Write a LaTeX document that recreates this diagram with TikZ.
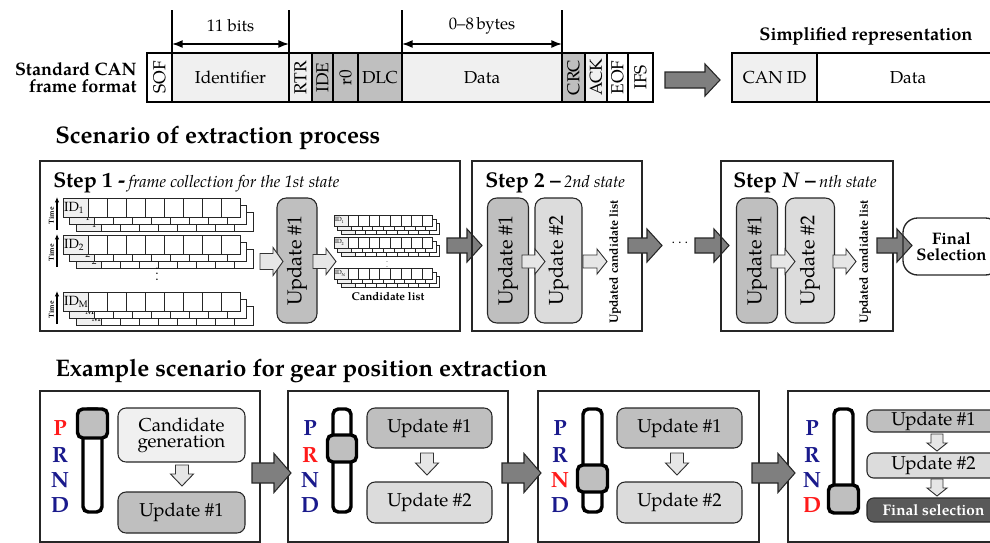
\documentclass[tikz,border=0pt]{standalone}
\usepackage{fontspec}
\setmainfont{TeX Gyre Pagella}
\usepackage{graphicx}
\usetikzlibrary{arrows.meta,calc}

\definecolor{cellLight}{HTML}{F0F0F0}
\definecolor{cellMid}{HTML}{BFBFBF}
\definecolor{updTwo}{HTML}{DCDCDC}
\definecolor{arrDark}{HTML}{7F7F7F}
\definecolor{arrLight}{HTML}{E6E6E6}
\definecolor{selDark}{HTML}{595959}
\definecolor{gearBlue}{HTML}{1A1A8C}
\definecolor{gearRed}{HTML}{FF1A1A}

\newcommand\fsz[1]{\fontsize{#1}{#1}\selectfont}
\newcommand\pxu{0.75pt}

% right-pointing block arrow: x1, x2, y, body half, head half, head length, style
\newcommand\blockR[7]{\draw[#7] (#1,{#3-#4}) -- ({#2-#6},{#3-#4}) -- ({#2-#6},{#3-#5}) -- (#2,#3)
  -- ({#2-#6},{#3+#5}) -- ({#2-#6},{#3+#4}) -- (#1,{#3+#4}) -- cycle;}
% downward block arrow: x, y1, y2, body half, head half, head length, style
\newcommand\blockD[7]{\draw[#7] ({#1-#4},#2) -- ({#1-#4},{#3-#6}) -- ({#1-#5},{#3-#6}) -- (#1,#3)
  -- ({#1+#5},{#3-#6}) -- ({#1+#4},{#3-#6}) -- ({#1+#4},#2) -- cycle;}

% one recorded frame: x, y, height, id width, cell width, label, label font
\newcommand\idlayer[7]{%
  \draw[framecell, fill=cellLight] (#1,#2) rectangle ({#1+#4},{#2+#3});
  \node[anchor=west, inner sep=0.6pt, font=#7] at (#1,{#2+#3/2}) {#6};
  \foreach \k in {0,...,7}{\draw[framecell, fill=white] ({#1+#4+\k*#5},#2) rectangle ({#1+#4+(\k+1)*#5},{#2+#3});}%
}
% three stacked frames of one ID
\newcommand\bigstack[3]{%
  \idlayer{#1+13}{#2+14}{19}{25}{19}{#3}{\fsz{10}}%
  \idlayer{#1+6.5}{#2+7}{19}{25}{19}{#3}{\fsz{10}}%
  \idlayer{#1}{#2}{19}{25}{19}{#3}{\fsz{10}}%
  \draw[-{Latex[length=4pt,width=3.4pt]}, line width=0.8pt] (57,{#2+32}) -- (57,{#2-1});
  \node[rotate=90, font=\bfseries\fsz{5.5}, inner sep=0pt] at (51.5,{#2+18}) {Time};
}
\newcommand\smallstack[3]{%
  \idlayer{#1+7}{#2+8}{11}{14}{10.6}{#3}{\fsz{4.5}}%
  \idlayer{#1+3.5}{#2+4}{11}{14}{10.6}{#3}{\fsz{4.5}}%
  \idlayer{#1}{#2}{11}{14}{10.6}{#3}{\fsz{4.5}}%
}
% field of the CAN frame: name, left x, right x, fill, content
\newcommand\fieldcell[5]{\node[fieldbox, fill=#4, minimum width={(#3-#2)*\pxu}, anchor=west] (#1) at (#2,77.5) {#5};}
% gear lever: bar left, bar right, knob top, knob bottom, bar bottom
\newcommand\gearlever[5]{%
  \draw[lever, fill=white] (#1,409) rectangle (#2,#5);
  \draw[lever, fill=cellMid] ({#1-5.5},#3) rectangle ({#2+5.5},#4);
}

\begin{document}
\begin{tikzpicture}[x=0.75pt,y=-0.75pt,
  fieldbox/.style={draw, line width=0.8pt, inner sep=0pt, outer sep=0pt, minimum height=49*\pxu, font=\fsz{13}},
  framecell/.style={draw=black!85, line width=0.6pt},
  dimline/.style={line width=1.1pt},
  dimarrow/.style={line width=1.1pt, {Latex[length=8pt,width=6pt]}-{Latex[length=8pt,width=6pt]}},
  barrow/.style={draw=black!85, line width=0.8pt, fill=arrDark},
  larrow/.style={draw=black!80, line width=0.7pt, fill=arrLight},
  stepbox/.style={draw=black!85, line width=1.1pt, inner sep=0pt, outer sep=0pt, anchor=north west},
  updbox/.style={draw=black!85, line width=0.8pt, rounded corners=7pt, inner sep=0pt, rotate=90, font=\fsz{15}},
  gbox/.style={draw=black!85, line width=0.8pt, rounded corners=6pt, inner sep=0pt, font=\fsz{14}, align=center},
  gearletter/.style={font=\bfseries\fsz{16.5}, inner sep=0pt},
  lever/.style={line width=2.6pt, rounded corners=4pt},
  sectitle/.style={font=\bfseries\fsz{18}, anchor=west, inner sep=0pt},
  vlabel/.style={rotate=90, font=\bfseries\fsz{9}, inner sep=0pt}
]
\useasboundingbox (0,0) rectangle (990,543);
\clip (0,0) rectangle (990,543);

% ---------------- standard CAN frame ----------------
\node[font=\bfseries\fontsize{13.5}{13}\selectfont, align=right, anchor=east, inner sep=0pt] (canlabel) at (137,77.5) {Standard CAN\\frame format};
\fieldcell{sof}{147}{172}{white}{\rotatebox{90}{SOF}}
\fieldcell{ident}{172}{289}{cellLight}{Identifier}
\fieldcell{rtr}{289}{312}{cellLight}{\rotatebox{90}{RTR}}
\fieldcell{ide}{312}{333}{cellMid}{\rotatebox{90}{IDE}}
\fieldcell{rzero}{333}{358}{cellMid}{\rotatebox{90}{r0}}
\fieldcell{dlc}{358}{402}{cellMid}{DLC}
\fieldcell{data}{402}{562}{cellLight}{Data}
\fieldcell{crc}{562}{585}{cellMid}{\rotatebox{90}{CRC}}
\fieldcell{ack}{585}{607}{cellLight}{\rotatebox{90}{ACK}}
\fieldcell{eof}{607}{628}{white}{\rotatebox{90}{EOF}}
\fieldcell{ifs}{628}{653}{white}{\rotatebox{90}{IFS}}

\draw[dimline] (ident.north west) -- ++(0,-43);
\draw[dimline] (ident.north east) -- ++(0,-43);
\draw[dimarrow] ($(ident.north west)+(0,-9)$) -- ($(ident.north east)+(0,-9)$);
\node[font=\fsz{12.5}] (bitslabel) at (230.5,26) {11 bits};
\draw[dimline] (data.north west) -- ++(0,-43);
\draw[dimline] (data.north east) -- ++(0,-43);
\draw[dimarrow] ($(data.north west)+(0,-9)$) -- ($(data.north east)+(0,-9)$);
\node[font=\fsz{12.5}] (byteslabel) at (482,26) {0--8\,bytes};

\blockR{665}{720}{80}{8}{16}{15}{barrow}

\node[font=\bfseries\fsz{13.7}] (simpltitle) at (866,36) {Simplified representation};
\node[fieldbox, fill=cellLight, minimum width=85*\pxu, anchor=west] (canid) at (732,77.5) {CAN ID};
\node[fieldbox, fill=white, minimum width=182*\pxu, anchor=west] (sdata) at (817,77.5) {Data};

% ---------------- extraction scenario ----------------
\node[sectitle] (scentitle) at (55,138) {Scenario of extraction process};

\node[stepbox, minimum width=420*\pxu, minimum height=170*\pxu] (stepone) at (40,161) {};
\node[anchor=base west, inner sep=0pt] (steponetitle) at (53,187) {{\bfseries\fsz{16}Step 1 -} {\itshape\fsz{12.5}frame collection for the 1st state}};

\bigstack{63}{198}{ID\textsubscript{1}}
\bigstack{63}{235}{ID\textsubscript{2}}
\bigstack{63}{292}{ID\textsubscript{M}}
\node[font=\fsz{10}] (stackdots) at (157,270) {$\vdots$};

\node[updbox, fill=cellMid, minimum width=125*\pxu, minimum height=40*\pxu] (oneupd) at (297,260.5) {Update \#1};
\blockR{260}{283}{261.5}{8}{14}{10}{larrow}
\blockR{313}{336}{261.5}{7}{13}{10}{larrow}

\smallstack{334}{215}{ID\textsubscript{1}}
\smallstack{334}{237}{ID\textsubscript{2}}
\smallstack{334}{268}{ID\textsubscript{N}}
\node[font=\fsz{6}] (canddots) at (387,258) {$\vdots$};
\node[font=\bfseries\fsz{8.5}] (candlabel) at (388,297) {Candidate list};

\blockR{447}{482}{245.5}{7.5}{16.5}{15}{barrow}

\node[stepbox, minimum width=170*\pxu, minimum height=170*\pxu] (steptwo) at (472,161) {};
\node[anchor=base west, inner sep=0pt] (steptwotitle) at (485,187) {{\bfseries\fsz{16}Step 2 --} {\itshape\fsz{12.5}2nd state}};
\node[updbox, fill=cellMid, minimum width=125*\pxu, minimum height=41*\pxu] (twoupdA) at (508,260.5) {Update \#1};
\node[updbox, fill=updTwo, minimum width=125*\pxu, minimum height=47*\pxu] (twoupdB) at (558.5,260.5) {Update \#2};
\blockR{522}{545}{261.5}{6.5}{12.5}{10}{larrow}
\blockR{583}{607}{261.5}{6.5}{12.5}{10}{larrow}
\node[vlabel] (twolist) at (615,262) {Updated candidate list};

\blockR{628}{662}{245.5}{7.5}{16.5}{15}{barrow}
\node[font=\fsz{11}] (middots) at (680,243) {$\cdots$};
\blockR{695}{729}{245.5}{7.5}{16.5}{15}{barrow}

\node[stepbox, minimum width=172*\pxu, minimum height=170*\pxu] (stepn) at (721,161) {};
\node[anchor=base west, inner sep=0pt] (stepntitle) at (733,187) {{\bfseries\fsz{16}Step \textit{N} --} {\itshape\fsz{12.5}nth state}};
\node[updbox, fill=cellMid, minimum width=125*\pxu, minimum height=41*\pxu] (nupdA) at (757,260.5) {Update \#1};
\node[updbox, fill=updTwo, minimum width=125*\pxu, minimum height=49*\pxu] (nupdB) at (810,260.5) {Update \#2};
\blockR{771}{795}{261.5}{6.5}{12.5}{10}{larrow}
\blockR{833}{856}{261.5}{6.5}{12.5}{10}{larrow}
\node[vlabel] (nlist) at (865,262) {Updated candidate list};

\blockR{877}{912}{245.5}{7.5}{16.5}{15}{barrow}
\node[draw=black!85, line width=1pt, rounded corners=11pt, minimum width=97*\pxu, minimum height=57*\pxu,
      font=\bfseries\fontsize{12.5}{12.5}\selectfont, align=center, inner sep=0pt] (finalsel) at (951.5,246.5) {Final\\Selection};

% ---------------- gear position example ----------------
\node[sectitle] (geartitle) at (55,371) {Example scenario for gear position extraction};

\node[stepbox, minimum width=220*\pxu, minimum height=151*\pxu] (gearone) at (40,391) {};
\node[stepbox, minimum width=220*\pxu, minimum height=151*\pxu] (geartwo) at (288,391) {};
\node[stepbox, minimum width=221*\pxu, minimum height=151*\pxu] (gearthree) at (538,391) {};
\node[stepbox, minimum width=220*\pxu, minimum height=151*\pxu] (gearfour) at (788,391) {};

\blockR{252}{291}{473}{10}{19.5}{17}{barrow}
\blockR{502}{541}{473}{10}{19.5}{17}{barrow}
\blockR{752}{795}{473}{10}{19.5}{17}{barrow}

% state P
\node[gearletter, text=gearRed] (pA) at (60,428) {P};
\node[gearletter, text=gearBlue] (rA) at (60,455) {R};
\node[gearletter, text=gearBlue] (nA) at (60,480) {N};
\node[gearletter, text=gearBlue] (dA) at (60,505) {D};
\gearlever{83}{102}{409}{438}{512}
\node[gbox, fill=cellLight, minimum width=127*\pxu, minimum height=54*\pxu] (candgen) at (181.5,435) {Candidate\\[-2pt]generation};
\node[gbox, fill=cellMid, minimum width=127*\pxu, minimum height=41*\pxu] (gearoneupd) at (181.5,512.5) {Update \#1};
\blockD{182}{465}{486}{6.5}{11.5}{12}{larrow}

% state R
\node[gearletter, text=gearBlue] (pB) at (310,428) {P};
\node[gearletter, text=gearRed] (rB) at (310,455) {R};
\node[gearletter, text=gearBlue] (nB) at (310,480) {N};
\node[gearletter, text=gearBlue] (dB) at (310,505) {D};
\gearlever{333}{351}{435}{462}{512}
\node[gbox, fill=cellMid, minimum width=125*\pxu, minimum height=40*\pxu] (geartwoupdA) at (429.5,428) {Update \#1};
\node[gbox, fill=updTwo, minimum width=125*\pxu, minimum height=41*\pxu] (geartwoupdB) at (429.5,502.5) {Update \#2};
\blockD{427}{453}{475}{6.5}{11.5}{12}{larrow}

% state N
\node[gearletter, text=gearBlue] (pC) at (560,428) {P};
\node[gearletter, text=gearBlue] (rC) at (560,455) {R};
\node[gearletter, text=gearRed] (nC) at (560,480) {N};
\node[gearletter, text=gearBlue] (dC) at (560,505) {D};
\gearlever{583}{602}{465}{492}{512}
\node[gbox, fill=cellMid, minimum width=125*\pxu, minimum height=40*\pxu] (gearthreeupdA) at (679.5,428) {Update \#1};
\node[gbox, fill=updTwo, minimum width=125*\pxu, minimum height=41*\pxu] (gearthreeupdB) at (679.5,502.5) {Update \#2};
\blockD{677}{453}{475}{6.5}{11.5}{12}{larrow}

% state D
\node[gearletter, text=gearBlue] (pD) at (812,428) {P};
\node[gearletter, text=gearBlue] (rD) at (812,455) {R};
\node[gearletter, text=gearBlue] (nD) at (812,480) {N};
\node[gearletter, text=gearRed] (dD) at (812,505) {D};
\gearlever{834}{853}{485}{513}{510}
\node[gbox, fill=cellMid, rounded corners=5pt, minimum width=133*\pxu, minimum height=22*\pxu] (gearfourupdA) at (933.5,421) {Update \#1};
\node[gbox, fill=updTwo, rounded corners=5pt, minimum width=133*\pxu, minimum height=25*\pxu] (gearfourupdB) at (933.5,465.5) {Update \#2};
\node[gbox, fill=selDark, text=white, rounded corners=5pt, minimum width=133*\pxu, minimum height=24*\pxu, font=\bfseries\fsz{11.5}] (gearfoursel) at (933.5,510) {Final selection};
\blockD{937}{434}{451}{6}{10}{8}{larrow}
\blockD{937}{479}{496}{6}{10}{8}{larrow}
\end{tikzpicture}
\end{document}
